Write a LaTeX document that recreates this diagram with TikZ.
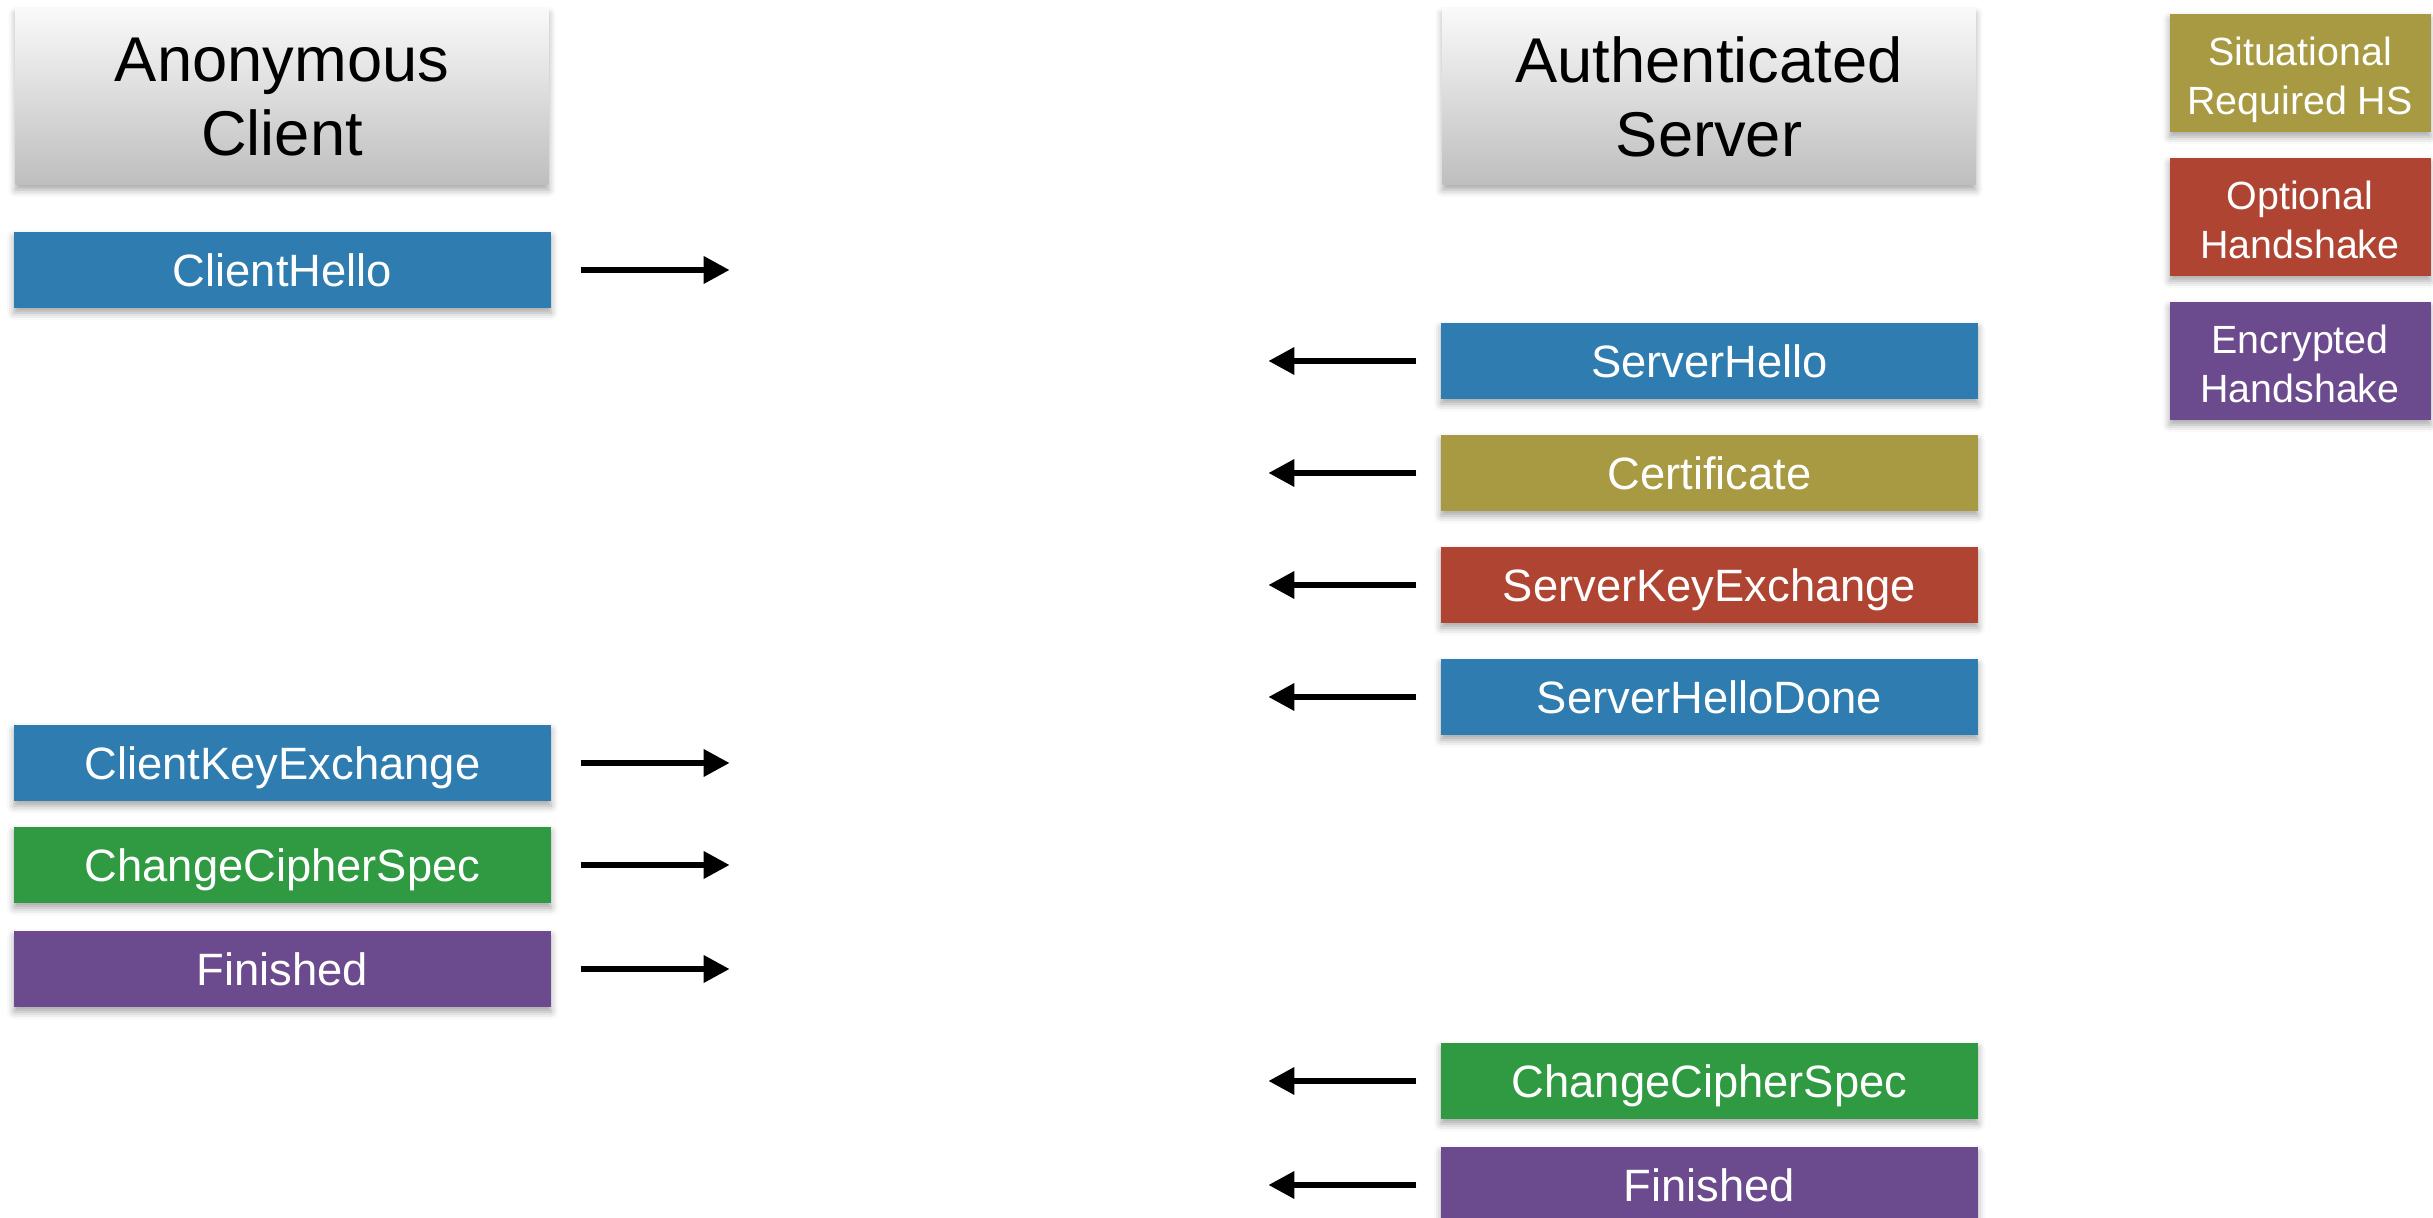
\documentclass[tikz,border=0pt]{standalone}
\usepackage{fontspec}
\setmainfont{Liberation Sans}
\usetikzlibrary{arrows.meta,shadows.blur}

\definecolor{msgblue}{HTML}{2F7CB0}
\definecolor{msgolive}{HTML}{A89A42}
\definecolor{msgred}{HTML}{B04433}
\definecolor{msggreen}{HTML}{2F9A41}
\definecolor{msgpurple}{HTML}{6C4A8E}
\definecolor{hdrtop}{HTML}{F9F9F9}
\definecolor{hdrbot}{HTML}{BEBEBE}

\tikzset{
  softshadow/.style={blur shadow={shadow xshift=0pt, shadow yshift=-0.5mm,
      shadow blur radius=0.7mm, shadow opacity=35}},
  msgbox/.style={rectangle, inner sep=0pt, minimum width=53.7mm,
      minimum height=7.6mm, text=white, softshadow,
      text height=9.2pt, text depth=0pt,
      font=\fontsize{12.9}{15}\selectfont},
  hdrbox/.style={rectangle, inner sep=0pt, minimum width=53.3mm,
      minimum height=17.6mm, top color=hdrtop, bottom color=hdrbot,
      softshadow, align=center, text=black,
      font=\fontsize{18}{21.2}\selectfont},
  keybox/.style={rectangle, inner sep=0pt, minimum width=26.1mm,
      minimum height=11.8mm, text=white, align=center, softshadow,
      text height=23.4pt, text depth=0pt,
      font=\fontsize{11.2}{13.7}\selectfont},
  msgarrow/.style={line width=1.8pt, -{Triangle[length=2.6mm,width=2.6mm]}}
}

\begin{document}
\begin{tikzpicture}[x=0.1mm, y=-0.1mm]
\useasboundingbox (0,0) rectangle (2433,1218);
\clip (0,0) rectangle (2433,1218);

% column headers
\node[hdrbox] (client) at (282,97) {Anonymous\\Client};
\node[hdrbox] (server) at (1709,97) {Authenticated\\Server};

% legend
\node[keybox, fill=msgolive]  (keysit) at (2300,73)  {Situational\\Required HS};
\node[keybox, fill=msgred]    (keyopt) at (2300,217) {Optional\\Handshake};
\node[keybox, fill=msgpurple] (keyenc) at (2300,361) {Encrypted\\Handshake};

% client messages
\node[msgbox, fill=msgblue]   (chello) at (282.5,270) {ClientHello};
\node[msgbox, fill=msgblue]   (ckex)   at (282.5,763) {ClientKeyExchange};
\node[msgbox, fill=msggreen]  (cccs)   at (282.5,865) {ChangeCipherSpec};
\node[msgbox, fill=msgpurple] (cfin)   at (282.5,969) {Finished};

% server messages
\node[msgbox, fill=msgblue]   (shello) at (1709.5,361)  {ServerHello};
\node[msgbox, fill=msgolive]  (scert)  at (1709.5,473)  {Certificate};
\node[msgbox, fill=msgred]    (skex)   at (1709.5,585)  {ServerKeyExchange};
\node[msgbox, fill=msgblue]   (sdone)  at (1709.5,697)  {ServerHelloDone};
\node[msgbox, fill=msggreen]  (sccs)   at (1709.5,1081) {ChangeCipherSpec};
\node[msgbox, fill=msgpurple] (sfin)   at (1709.5,1185) {Finished};

% outgoing client arrows
\foreach \m in {chello,ckex,cccs,cfin}
  \draw[msgarrow] ([xshift=2.9mm]\m.east) -- ([xshift=17.8mm]\m.east);

% outgoing server arrows
\foreach \m in {shello,scert,skex,sdone,sccs,sfin}
  \draw[msgarrow] ([xshift=-2.4mm]\m.west) -- ([xshift=-17.2mm]\m.west);
\end{tikzpicture}
\end{document}
